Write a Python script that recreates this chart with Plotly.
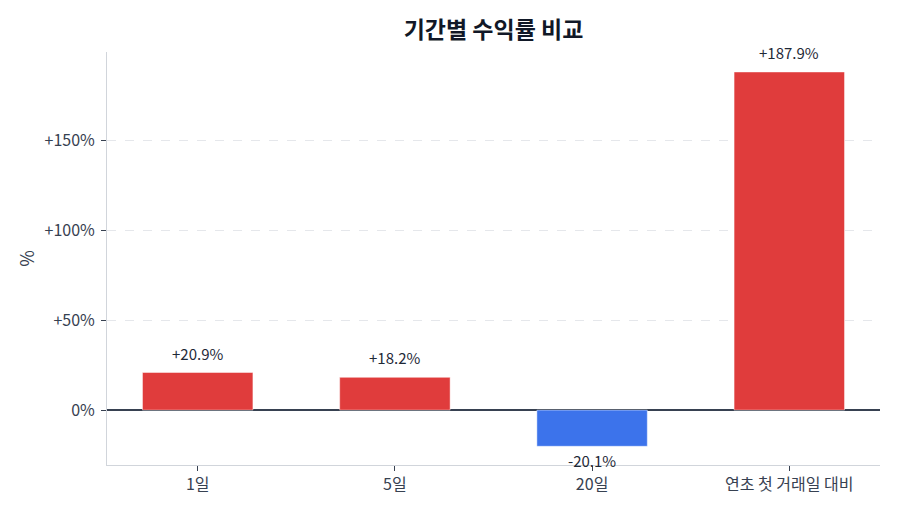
import plotly.graph_objects as go

categories = ["1일", "5일", "20일", "연초 첫 거래일 대비"]
returns = [20.9, 18.2, -20.1, 187.9]
labels = ["+20.9%", "+18.2%", "-20.1%", "+187.9%"]
tick_vals = [0, 50, 100, 150]
tick_text = ["0%", "+50%", "+100%", "+150%"]

colors = ["#E03C3C" if v >= 0 else "#3C73EB" for v in returns]

fig = go.Figure(go.Bar(
    x=categories, y=returns,
    marker=dict(color=colors, line=dict(color="rgba(255,255,255,0.45)", width=1)),
    width=0.56,
))

for c, v, t in zip(categories, returns, labels):
    fig.add_annotation(x=c, y=v, text=t, showarrow=False,
                       yanchor="bottom" if v >= 0 else "top",
                       yshift=7 if v >= 0 else -2,
                       font=dict(size=15, color="#1f2937"))

fig.update_layout(
    width=900, height=514,
    margin=dict(l=107, r=20, t=52, b=49),
    paper_bgcolor="white", plot_bgcolor="white",
    font=dict(family="Noto Sans CJK KR", color="#374151", size=16),
    title=dict(text="<b>기간별 수익률 비교</b>", x=0.5, xref="paper", xanchor="center",
               y=1 - 30 / 514, yref="container", yanchor="middle",
               font=dict(size=23, color="#111827")),
    showlegend=False,
)
fig.update_xaxes(range=[-0.46, 3.46], showline=True, linecolor="#d1d5db", linewidth=1,
                 ticks="outside", ticklen=5, tickcolor="#374151",
                 tickfont=dict(size=16, color="#374151"))
fig.update_yaxes(range=[-30.5, 199], tickvals=tick_vals, ticktext=tick_text,
                 showline=True, linecolor="#d1d5db", linewidth=1,
                 ticks="outside", ticklen=5, tickcolor="#374151",
                 ticklabelstandoff=3,
                 showgrid=True, gridcolor="#e5e7eb", griddash="dash",
                 zeroline=True, zerolinecolor="#374151", zerolinewidth=1.5,
                 title=dict(text="%", font=dict(size=18, color="#374151"), standoff=5),
                 tickfont=dict(size=16, color="#374151"))

fig.write_html("out.html")
